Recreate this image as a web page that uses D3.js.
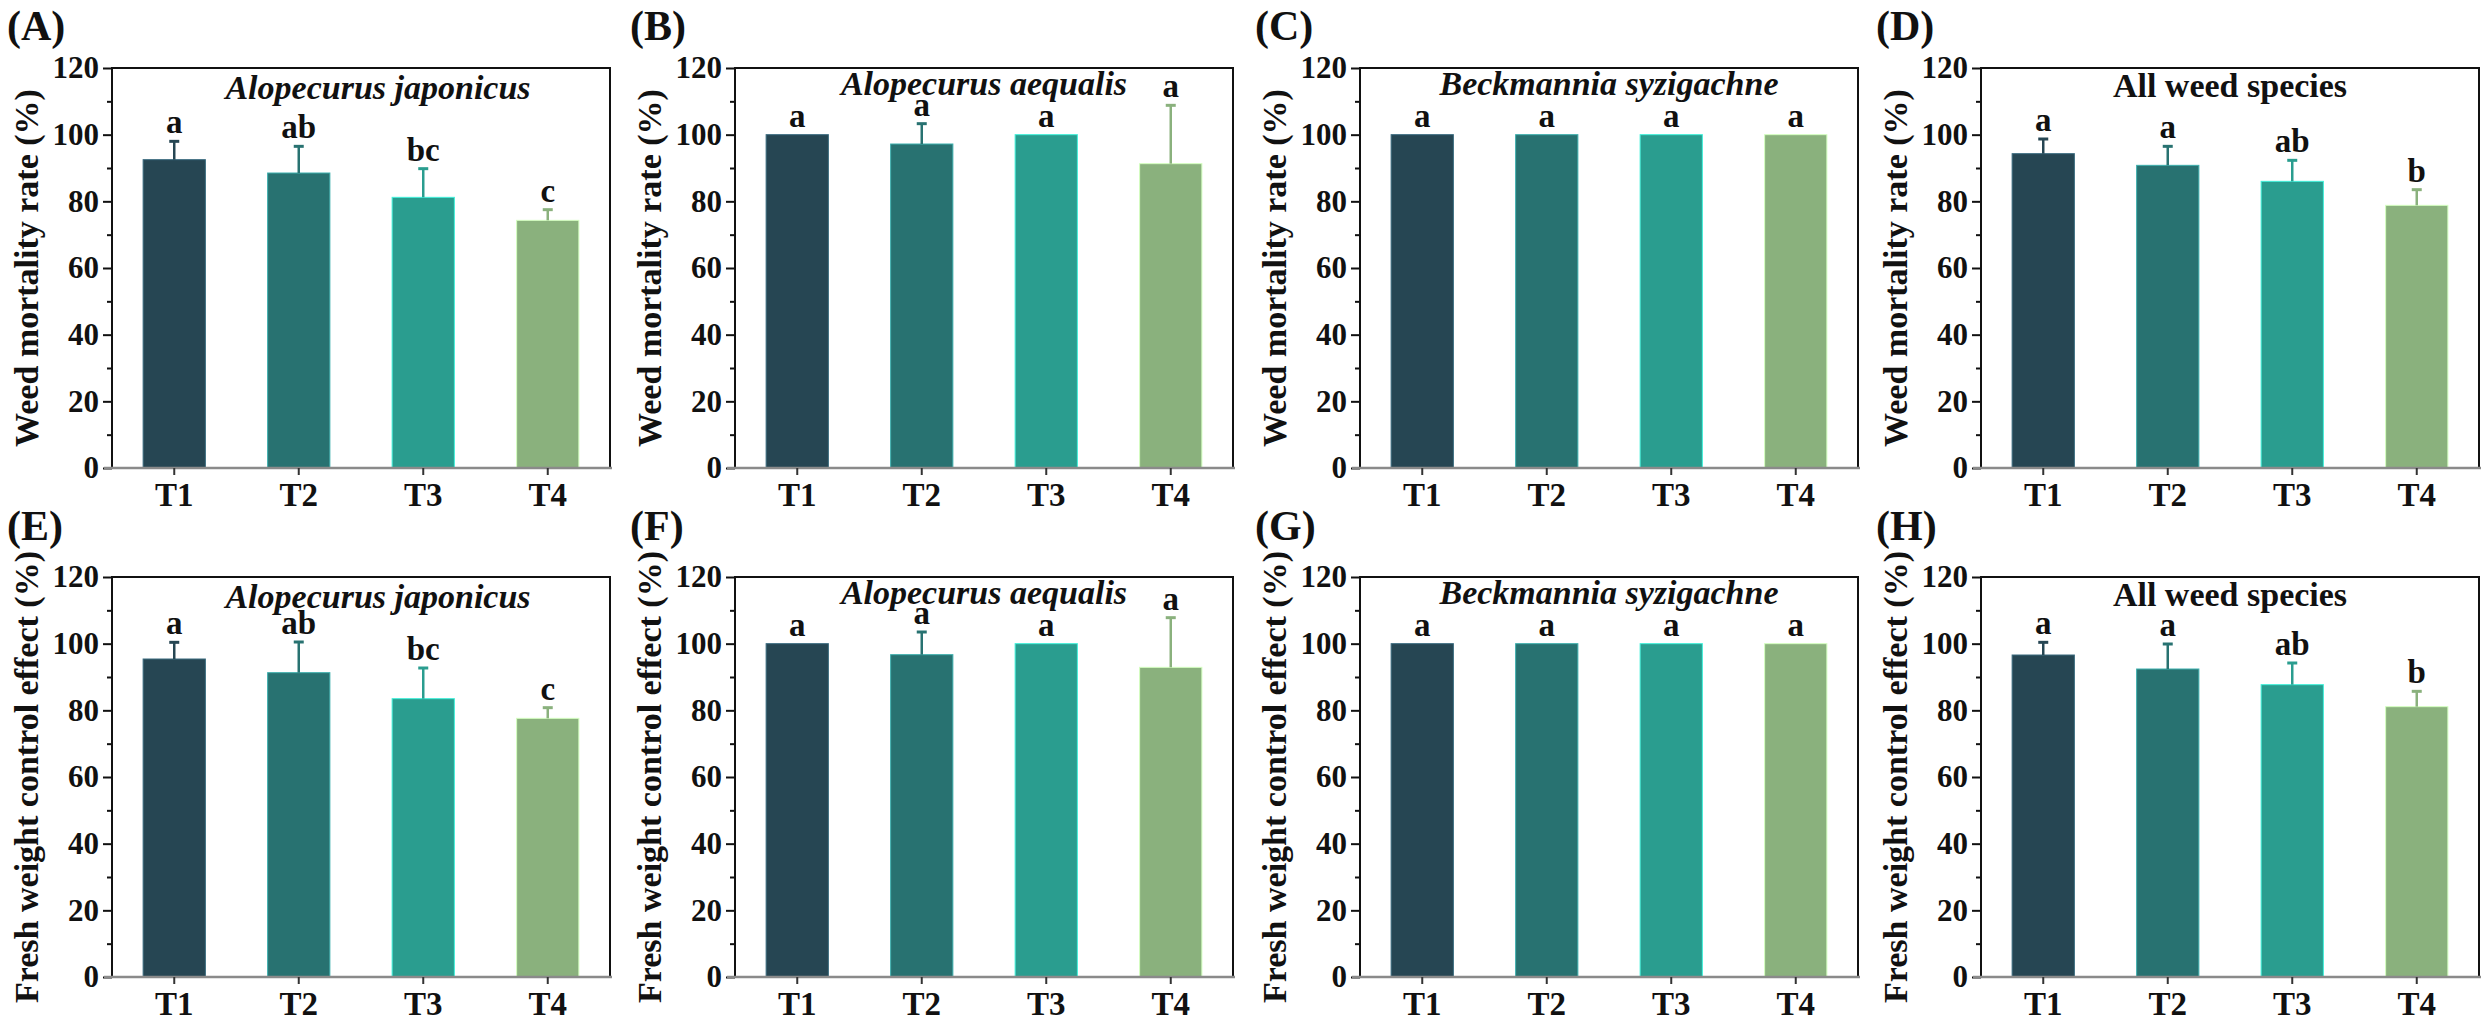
<!DOCTYPE html>
<html>
<head>
<meta charset="utf-8">
<script src="https://cdn.jsdelivr.net/npm/d3@7"></script>
<style>
  body { margin: 0; background: #fff; }
  svg { display: block; }
</style>
</head>
<body>
<svg id="chart" width="2490" height="1028"></svg>
<script>
// ---- data ----
const treatments = ['T1', 'T2', 'T3', 'T4']
const barColors = ['#264653', '#287271', '#2a9d8f', '#8ab17d']
const speciesTitles = ['Alopecurus japonicus', 'Alopecurus aequalis', 'Beckmannia syzigachne', 'All weed species']
const titleItalic = [true, true, true, false]
const rowLabels = ['Weed mortality rate (%)', 'Fresh weight control effect (%)']
const panelNames = [['A', 'B', 'C', 'D'], ['E', 'F', 'G', 'H']]
const yTicks = [0, 20, 40, 60, 80, 100, 120]

// weed mortality rate, mean and SD per species
const mortalityMean = [
  [92.5, 88.5, 81.2, 74.3],
  [100, 97.2, 100, 91.3],
  [100, 100, 100, 100],
  [94.3, 90.8, 86.0, 78.8],
]
const mortalitySd = [
  [5.5, 8.0, 8.6, 3.2],
  [0, 6.1, 0, 17.5],
  [0, 0, 0, 0],
  [4.4, 5.7, 6.3, 4.7],
]
// fresh weight control effect, mean and SD per species
const freshMean = [
  [95.4, 91.3, 83.5, 77.6],
  [100, 96.7, 100, 92.9],
  [100, 100, 100, 100],
  [96.6, 92.4, 87.7, 81.1],
]
const freshSd = [
  [5.0, 9.2, 9.2, 3.2],
  [0, 6.8, 0, 14.9],
  [0, 0, 0, 0],
  [3.8, 7.5, 6.5, 4.6],
]
// significance letters (same in both rows)
const sigLetters = [
  ['a', 'ab', 'bc', 'c'],
  ['a', 'a', 'a', 'a'],
  ['a', 'a', 'a', 'a'],
  ['a', 'a', 'ab', 'b'],
]

// ---- layout ----
const font = '"Liberation Serif", "Times New Roman", Times, serif'
const plotW = 498
const plotH = 400
const colLeft = [112, 735, 1360, 1981]
const rowTop = [68, 577]
const panelLabelDy = [-28, -37]
const titleShift = [[17, 31], [0, 27], [0, 27], [0, 29]]

const svg = d3.select('#chart')
svg.append('rect').attr('width', 2490).attr('height', 1028).attr('fill', '#fff')

const x = d3.scaleBand().domain(treatments).range([0, plotW]).paddingInner(0.5).paddingOuter(0.25)
const y = d3.scaleLinear().domain([0, 120]).range([plotH, 0])
const color = d3.scaleOrdinal().domain(treatments).range(barColors)

const rows = [
  { means: mortalityMean, sds: mortalitySd },
  { means: freshMean, sds: freshSd },
]

rows.forEach((row, r) => {
  speciesTitles.forEach((title, c) => {
    const data = treatments.map((t, i) => ({
      t,
      mean: row.means[c][i],
      sd: row.sds[c][i],
      letter: sigLetters[c][i],
    }))

    const g = svg.append('g')
      .attr('transform', `translate(${colLeft[c]},${rowTop[r]})`)
      .style('font-family', font)
      .style('font-weight', 'bold')

    // panel letter
    g.append('text')
      .attr('x', -105)
      .attr('y', panelLabelDy[r])
      .attr('font-size', 42)
      .attr('fill', '#111')
      .text(`(${panelNames[r][c]})`)

    // bars
    g.selectAll('rect.bar')
      .data(data)
      .join('rect')
      .attr('class', 'bar')
      .attr('x', (d) => x(d.t))
      .attr('y', (d) => y(d.mean))
      .attr('width', x.bandwidth())
      .attr('height', (d) => plotH - y(d.mean))
      .attr('fill', (d) => color(d.t))
      .attr('stroke', (d) => d3.color(color(d.t)).brighter(1.2))
      .attr('stroke-width', 1)

    // upper error bars
    const err = g.selectAll('g.err')
      .data(data.filter((d) => d.sd > 0))
      .join('g')
      .attr('class', 'err')
      .attr('stroke', (d) => color(d.t))
      .attr('stroke-width', 2.5)

    err.append('line')
      .attr('x1', (d) => x(d.t) + x.bandwidth() / 2)
      .attr('x2', (d) => x(d.t) + x.bandwidth() / 2)
      .attr('y1', (d) => y(d.mean))
      .attr('y2', (d) => y(d.mean + d.sd))

    err.append('line')
      .attr('x1', (d) => x(d.t) + x.bandwidth() / 2 - 5)
      .attr('x2', (d) => x(d.t) + x.bandwidth() / 2 + 5)
      .attr('y1', (d) => y(d.mean + d.sd))
      .attr('y2', (d) => y(d.mean + d.sd))
      .attr('stroke-width', 3)

    // significance letters
    g.selectAll('text.sig')
      .data(data)
      .join('text')
      .attr('class', 'sig')
      .attr('x', (d) => x(d.t) + x.bandwidth() / 2)
      .attr('y', (d) => y(d.mean + d.sd) - 8)
      .attr('text-anchor', 'middle')
      .attr('font-size', 33)
      .attr('fill', '#111')
      .text((d) => d.letter)

    // species title
    g.append('text')
      .attr('x', plotW / 2 + titleShift[c][0])
      .attr('y', titleShift[c][1])
      .attr('text-anchor', 'middle')
      .attr('font-size', 34)
      .attr('font-style', titleItalic[c] ? 'italic' : 'normal')
      .attr('fill', '#111')
      .text(title)

    // y axis: major ticks with labels, minor ticks between
    const yAxis = g.append('g')
      .call(d3.axisLeft(y).tickValues(yTicks).tickSize(9).tickPadding(4))
    yAxis.select('.domain').remove()
    yAxis.selectAll('.tick line').attr('stroke', '#111').attr('stroke-width', 2)
    yAxis.selectAll('.tick text')
      .attr('font-size', 31)
      .attr('font-family', font)
      .attr('font-weight', 'bold')
      .attr('fill', '#111')

    const yMinor = g.append('g')
      .call(d3.axisLeft(y).tickValues(d3.range(10, 120, 20)).tickSize(5).tickFormat(''))
    yMinor.select('.domain').remove()
    yMinor.selectAll('.tick line').attr('stroke', '#111').attr('stroke-width', 2)

    // frame
    g.append('rect')
      .attr('width', plotW)
      .attr('height', plotH)
      .attr('fill', 'none')
      .attr('stroke', '#111')
      .attr('stroke-width', 2)

    // x axis
    const xAxis = g.append('g')
      .attr('transform', `translate(0,${plotH})`)
      .call(d3.axisBottom(x).tickSize(7).tickPadding(8).tickSizeOuter(0))
    xAxis.select('.domain')
      .attr('d', `M-8,0H${plotW + 2}`)
      .attr('stroke', '#8a8a8a')
      .attr('stroke-width', 2.5)
    xAxis.selectAll('.tick line').attr('stroke', '#333').attr('stroke-width', 2)
    xAxis.selectAll('.tick text')
      .attr('font-size', 33)
      .attr('font-family', font)
      .attr('font-weight', 'bold')
      .attr('fill', '#111')

    // y axis title
    g.append('text')
      .attr('transform', `translate(-74,${plotH / 2}) rotate(-90)`)
      .attr('text-anchor', 'middle')
      .attr('font-size', 34)
      .attr('fill', '#111')
      .text(rowLabels[r])
  })
})
</script>
</body>
</html>
